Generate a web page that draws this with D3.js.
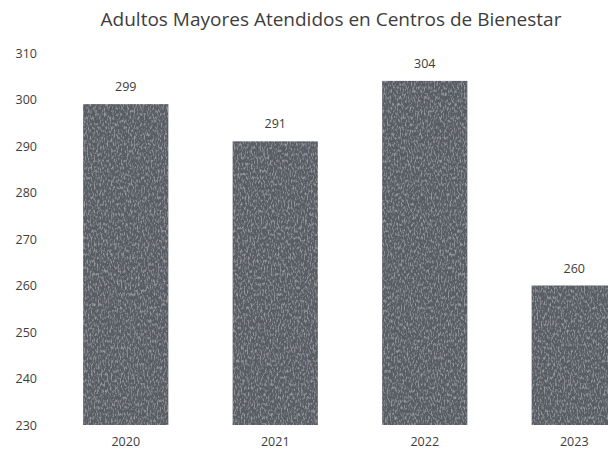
<!DOCTYPE html>
<html>
<head>
<meta charset="utf-8">
<script src="https://cdn.jsdelivr.net/npm/d3@7"></script>
<style>
  body { margin: 0; background: #fff; }
  text { font-family: "Open Sans", sans-serif; fill: #3d3d3d; }
</style>
</head>
<body>
<div class="canvas"></div>
<script>
const years = ['2020', '2021', '2022', '2023'];
const values = [299, 291, 304, 260];
const yTicks = [230, 240, 250, 260, 270, 280, 290, 300, 310];
const title = 'Adultos Mayores Atendidos en Centros de Bienestar';

const width = 608;
const height = 459;

const svg = d3.select('.canvas').append('svg')
  .attr('width', width)
  .attr('height', height);

// grainy scan look for the bars
const defs = svg.append('defs');
const grain = defs.append('filter').attr('id', 'grain')
  .attr('x', 0).attr('y', 0).attr('width', 1).attr('height', 1);
grain.append('feTurbulence')
  .attr('type', 'fractalNoise')
  .attr('baseFrequency', '0.7 0.3')
  .attr('numOctaves', 2)
  .attr('seed', 3)
  .attr('result', 'noise');
grain.append('feColorMatrix')
  .attr('in', 'noise')
  .attr('type', 'matrix')
  .attr('values', '0 0 0 0 0.75  0 0 0 0 0.76  0 0 0 0 0.8  0 0 0 3 -1.4')
  .attr('result', 'speck');
grain.append('feComponentTransfer')
  .attr('in', 'speck')
  .attr('result', 'speckSoft')
  .append('feFuncA').attr('type', 'linear').attr('slope', 0.35);
grain.append('feComposite')
  .attr('in', 'speckSoft').attr('in2', 'SourceGraphic')
  .attr('operator', 'in').attr('result', 'speckIn');
grain.append('feMerge').selectAll('feMergeNode')
  .data(['SourceGraphic', 'speckIn'])
  .enter().append('feMergeNode').attr('in', d => d);

// scales
const y = d3.scaleLinear()
  .domain([230, 310])
  .range([425, 53]);

const x = d3.scaleBand()
  .domain(years)
  .range([51, 649])
  .paddingInner(0.43)
  .paddingOuter(0.215);

// title
svg.append('text')
  .attr('x', 331)
  .attr('y', 26)
  .attr('text-anchor', 'middle')
  .attr('font-size', 19)
  .text(title);

// y axis, labels only
const yAxis = d3.axisLeft(y)
  .tickValues(yTicks)
  .tickSize(0)
  .tickPadding(0);

svg.append('g')
  .attr('transform', 'translate(37, 0)')
  .call(yAxis)
  .call(g => g.select('.domain').remove())
  .selectAll('text')
  .attr('font-size', 12.5)
  .attr('font-family', '"Open Sans", sans-serif')
  .attr('fill', '#3d3d3d');

// bars
svg.selectAll('rect.bar')
  .data(values)
  .enter().append('rect')
  .attr('class', 'bar')
  .attr('x', (d, i) => x(years[i]))
  .attr('y', d => y(d))
  .attr('width', x.bandwidth())
  .attr('height', d => y(230) - y(d))
  .attr('fill', '#595c64')
  .attr('filter', 'url(#grain)');

// value labels
svg.selectAll('text.value')
  .data(values)
  .enter().append('text')
  .attr('class', 'value')
  .attr('x', (d, i) => x(years[i]) + x.bandwidth() / 2)
  .attr('y', d => y(d) - 13)
  .attr('text-anchor', 'middle')
  .attr('font-size', 12.5)
  .text(d => d);

// x axis, labels only
const xAxis = d3.axisBottom(x).tickSize(0).tickPadding(0);
svg.append('g')
  .attr('transform', `translate(0, ${y(230) + 12})`)
  .call(xAxis)
  .call(g => g.select('.domain').remove())
  .selectAll('text')
  .attr('font-size', 12.5)
  .attr('font-family', '"Open Sans", sans-serif')
  .attr('fill', '#3d3d3d');
</script>
</body>
</html>
